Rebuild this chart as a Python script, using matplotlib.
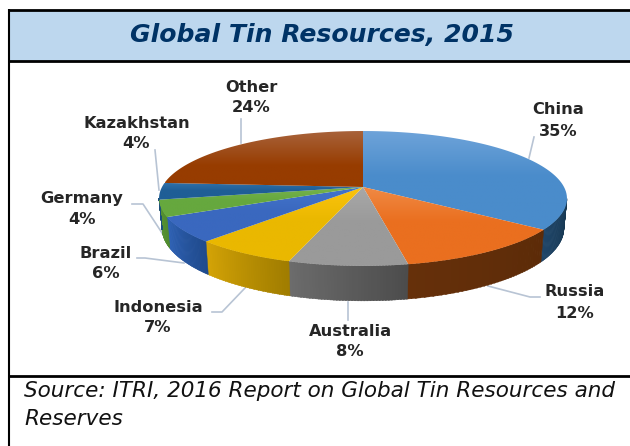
import numpy as np
import matplotlib
matplotlib.use("Agg")
import matplotlib.pyplot as plt
from matplotlib.patches import Polygon
from matplotlib.colors import to_rgb

countries = ["China", "Russia", "Australia", "Indonesia", "Brazil", "Germany", "Kazakhstan", "Other"]
shares = [35, 12, 8, 7, 6, 4, 4, 24]

# top face colours: upper and lower end of the gradient
top_light = ["#6ea3d9", "#f08a45", "#a8a8a8", "#fcc40e", "#4374cc", "#78b450", "#2f70a8", "#a8623a"]
top_dark = ["#4a8ccb", "#ea6f1f", "#9a9a9a", "#eab800", "#3a68bf", "#66a83e", "#1f5e96", "#973c00"]
# side wall colours: left and right end of the gradient
wall_left = ["#1f4568", "#66300a", "#6c6c6c", "#d4a406", "#2f62b5", "#5a9636", "#1c4f7c", "#843c0c"]
wall_right = ["#16364f", "#5c2b08", "#4c4c4c", "#a07c00", "#1f4a8c", "#4f8a2e", "#1c4f7c", "#843c0c"]

label_pos = [(558, 110), (575, 292), (350, 331), (158, 308), (106, 253), (82, 199), (137, 123), (251, 88)]
value_pos = [(558, 131), (575, 313), (350, 352), (158, 328), (106, 273), (82, 219), (136, 144), (251, 108)]
leaders = [
    [(529, 158), (534, 137)],
    [(488, 286), (530, 297), (540, 297)],
    [(348, 302), (348, 320)],
    [(245, 288), (222, 312), (212, 312)],
    [(184, 263), (145, 258), (137, 258)],
    [(166, 239), (143, 204), (132, 204)],
    [(159, 190), (155, 150)],
    [(241, 143), (241, 119)],
]

CX, CY = 363, 187
A, B, K = 201, 65.5, 0.17
DEPTH = 29
WALL_SCALE = 0.985


def project(theta):
    # perspective view of the pie disc, theta clockwise from the top
    den = 1 + K * np.cos(theta)
    return CX + A * np.sin(theta) / den, CY - B * np.cos(theta) / den


def project_low(theta):
    den = 1 + K * np.cos(theta)
    return CX + WALL_SCALE * A * np.sin(theta) / den, CY - B * np.cos(theta) / den + DEPTH / den


def main():
    fig = plt.figure(figsize=(6.3, 4.46), dpi=100)
    ax = fig.add_axes([0, 0, 1, 1])
    ax.set_xlim(0, 630)
    ax.set_ylim(446, 0)
    ax.axis("off")

    # header band and frame
    ax.fill_between([9, 630], 10, 61, color="#bdd7ee", zorder=1, lw=0)
    for y in [10, 61, 376]:
        ax.plot([8, 630], [y, y], color="black", lw=2, zorder=2, solid_capstyle="butt")
    ax.plot([8.5, 8.5], [9, 446], color="black", lw=1.5, zorder=2, solid_capstyle="butt")

    ax.text(322, 35, "Global Tin Resources, 2015", color="#003366", fontsize=18.1,
            fontweight="bold", fontstyle="italic", ha="center", va="center")
    ax.text(24, 391, "Source: ITRI, 2016 Report on Global Tin Resources and", fontsize=15.5,
            fontstyle="italic", ha="left", va="center", color="#111111")
    ax.text(24, 419, "Reserves", fontsize=15.5, fontstyle="italic", ha="left", va="center",
            color="#111111")

    # leader lines
    for pts in leaders:
        xs, ys = zip(*pts)
        ax.plot(xs, ys, color="#b8c4d4", lw=1.2, zorder=3)

    edges = np.cumsum([0] + shares) / sum(shares) * 2 * np.pi

    # side walls are only visible between the two silhouette angles of the disc
    sil_right = np.arccos(-K)
    sil_left = 2 * np.pi - sil_right
    for i in range(len(shares)):
        lo = max(edges[i], sil_right)
        hi = min(edges[i + 1], sil_left)
        if hi <= lo:
            continue
        steps = np.linspace(lo, hi, 40)
        c0 = np.array(to_rgb(wall_left[i]))
        c1 = np.array(to_rgb(wall_right[i]))
        for j in range(len(steps) - 1):
            # theta runs right to left on screen along the front of the pie
            f = (j + 0.5) / (len(steps) - 1)
            col = c1 * (1 - f) + c0 * f
            a, b = steps[j], steps[j + 1] + 0.005
            quad = [project(a), project(b), project_low(b), project_low(a)]
            ax.add_patch(Polygon(quad, closed=True, facecolor=col, edgecolor=col, lw=0.3, zorder=4))

    # top faces with a vertical gradient clipped to the wedge
    for i in range(len(shares)):
        th = np.linspace(edges[i], edges[i + 1], 80)
        xs, ys = project(th)
        verts = np.column_stack([np.r_[CX, xs], np.r_[CY, ys]])
        wedge = Polygon(verts, closed=True, facecolor="none", edgecolor="none", transform=ax.transData)
        ax.add_patch(wedge)
        y0, y1 = verts[:, 1].min(), verts[:, 1].max()
        if i == 7:
            y1 = CY + 20
        c0 = np.array(to_rgb(top_light[i]))
        c1 = np.array(to_rgb(top_dark[i]))
        f = np.clip(np.linspace(0, 1, 128) * 2.2, 0, 1)[:, None, None]
        grad = c0[None, None, :] * (1 - f) + c1[None, None, :] * f
        im = ax.imshow(grad, extent=[verts[:, 0].min(), verts[:, 0].max(), y1, y0],
                       aspect="auto", zorder=5, interpolation="bilinear")
        im.set_clip_path(wedge)
    ax.set_xlim(0, 630)
    ax.set_ylim(446, 0)

    # data labels
    for name, share, lp, vp in zip(countries, shares, label_pos, value_pos):
        ax.text(lp[0], lp[1], name, fontsize=11.7, fontweight="bold", color="#262626",
                ha="center", va="center", zorder=6)
        ax.text(vp[0], vp[1], f"{share}%", fontsize=11.7, fontweight="bold", color="#262626",
                ha="center", va="center", zorder=6)

    fig.savefig("out.png", dpi=100)
    plt.close(fig)


if __name__ == "__main__":
    main()
